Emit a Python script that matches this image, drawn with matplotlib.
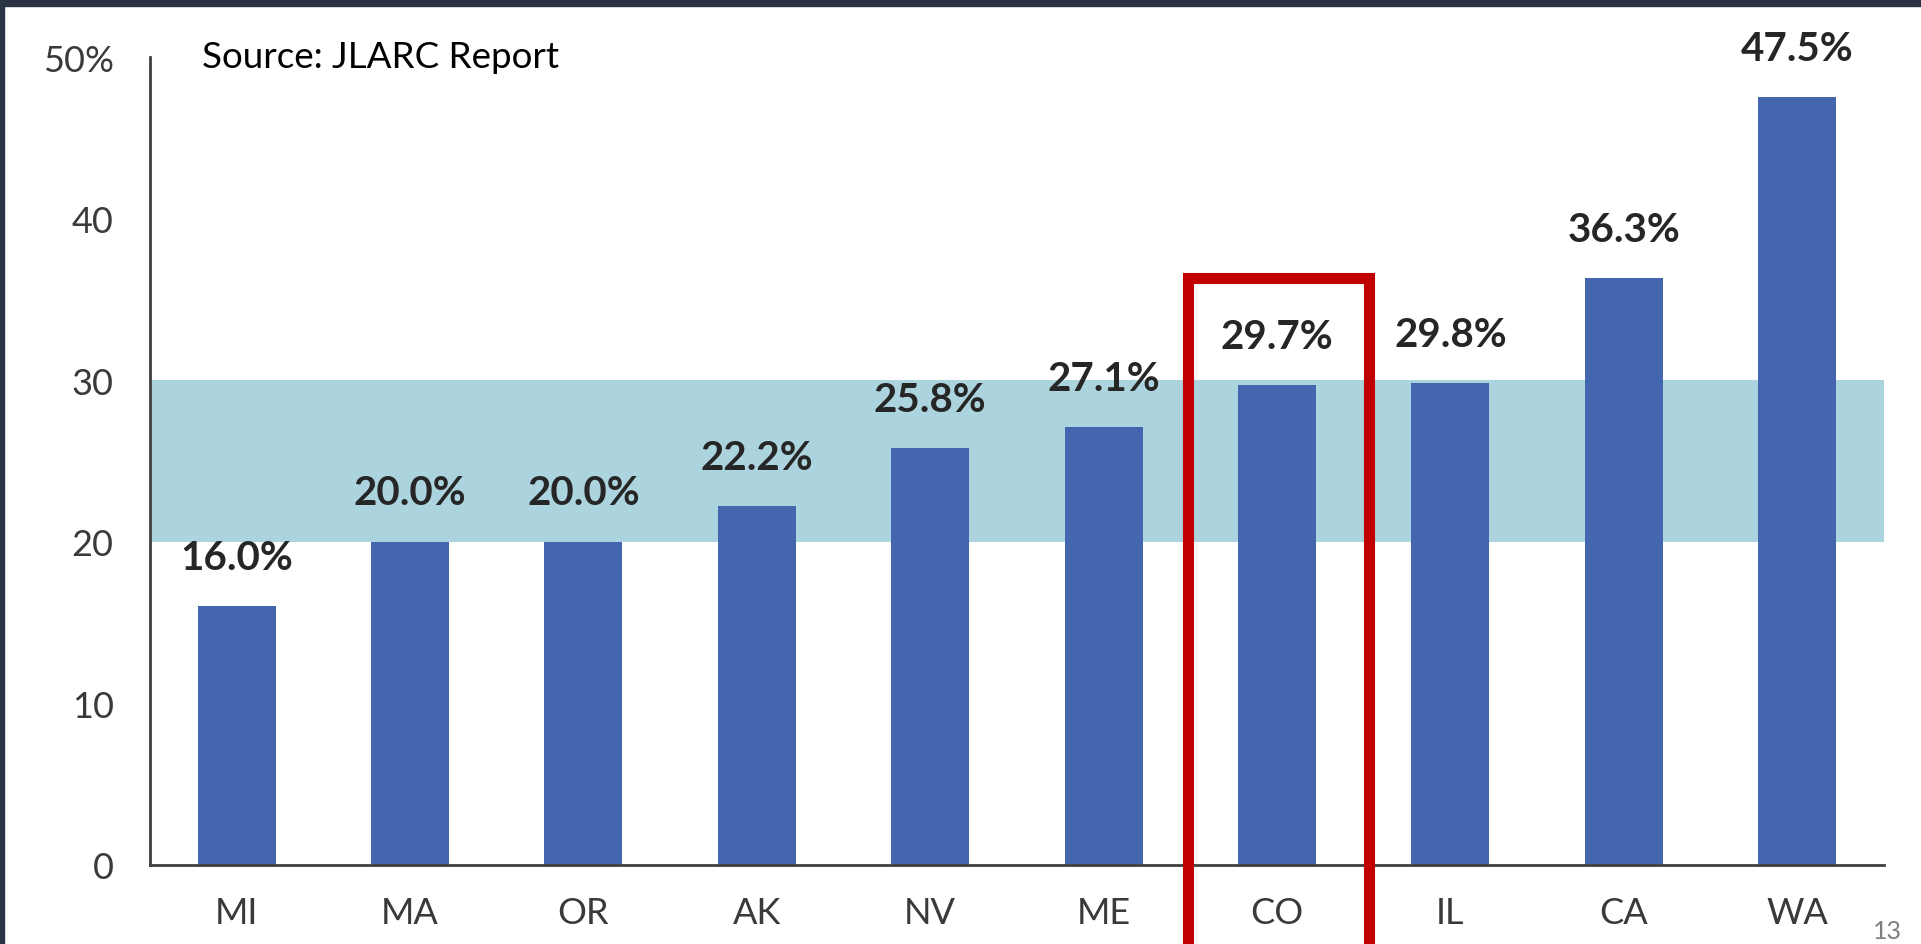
import matplotlib
matplotlib.use("Agg")
import matplotlib.pyplot as plt
from matplotlib.patches import Rectangle

states = ["MI", "MA", "OR", "AK", "NV", "ME", "CO", "IL", "CA", "WA"]
values = [16.0, 20.0, 20.0, 22.2, 25.8, 27.1, 29.7, 29.8, 36.3, 47.5]
band_low, band_high = 20, 30
yticks = [0, 10, 20, 30, 40, 50]
ytick_labels = ["0", "10", "20", "30", "40", "50%"]
highlight = "CO"
source_text = "Source: JLARC Report"
page_number = "13"

plt.rcParams['font.family'] = ['Lato', 'DejaVu Sans']

fig = plt.figure(figsize=(19.21, 9.45), dpi=100)
fig.patch.set_facecolor("white")
ax = fig.add_axes([0.078, 0.0836, 0.9807 - 0.078, 0.9386 - 0.0836])

ax.axhspan(band_low, band_high, color="#acd4de", zorder=0, lw=0)
x = list(range(len(states)))
ax.bar(x, values, width=0.45, color="#4466ae", zorder=2)

for xi, v in zip(x, values):
    ax.annotate(f"{v:.1f}%", (xi, v), xytext=(0, 27), textcoords="offset points",
                ha="center", va="baseline", fontsize=29, fontweight="bold",
                color="#262626", zorder=3)

ax.set_xlim(-0.5, len(states) - 0.5)
ax.set_ylim(0, 50)
ax.set_xticks(x, states)
ax.set_yticks(yticks, ytick_labels)
ax.tick_params(axis="x", length=0, pad=22, labelsize=26, labelcolor="#3a3a3a")
ax.tick_params(axis="y", length=0, pad=26, labelsize=26, labelcolor="#3a3a3a")
for s in ["top", "right"]:
    ax.spines[s].set_visible(False)
for s in ["left", "bottom"]:
    ax.spines[s].set_color("#404040")
    ax.spines[s].set_linewidth(2)

# highlight box around CO
hi = states.index(highlight)
ax.add_patch(Rectangle((hi - 0.516, -8), 1.045, 36.35 + 8, fill=False,
                       edgecolor="#c00000", linewidth=8, clip_on=False, zorder=4))

fig.text(202 / 1921, 1 - 57 / 945, source_text, ha="left", va="center",
         fontsize=26.5, color="black")
fig.text(1887 / 1921, 1 - 932 / 945, page_number, ha="center", va="center",
         fontsize=18, color="#7f7f7f")

# dark slide frame
fig.patches.append(Rectangle((0, 1 - 7 / 945), 1, 7 / 945, transform=fig.transFigure,
                             color="#2b3445", zorder=10))
fig.patches.append(Rectangle((0, 0), 4 / 1921, 1, transform=fig.transFigure,
                             color="#2b3445", zorder=10))

fig.savefig("out.png", dpi=100)
